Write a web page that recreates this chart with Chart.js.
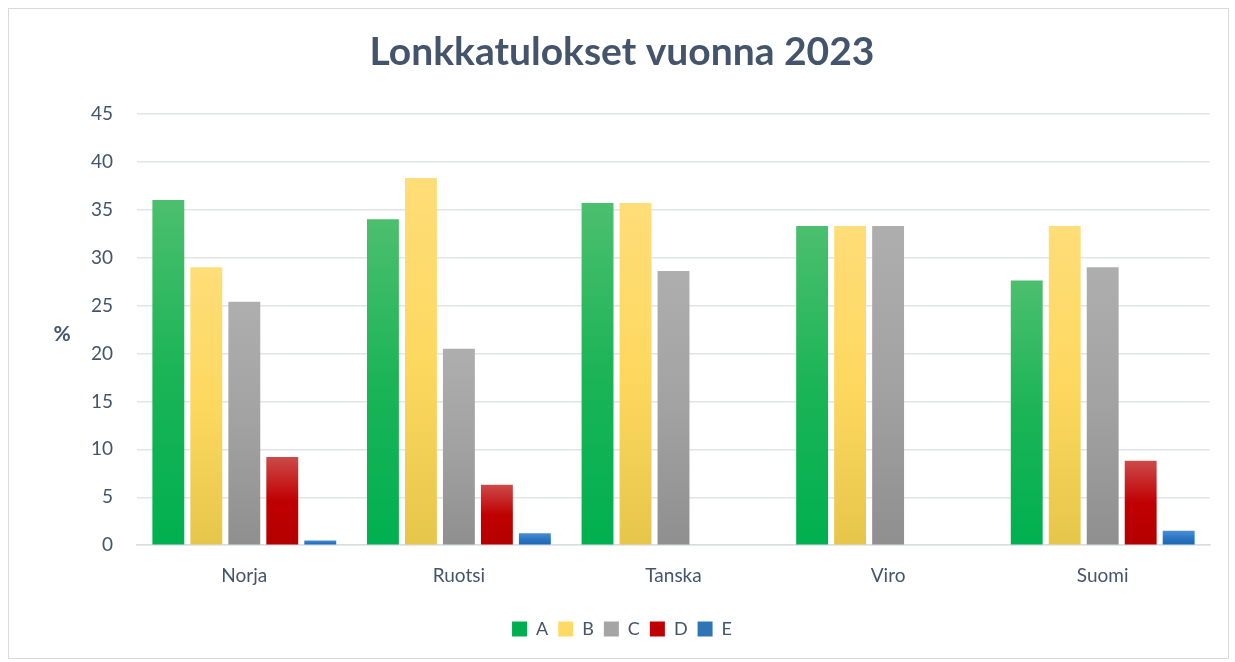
<!DOCTYPE html>
<html>
<head>
<meta charset="utf-8">
<script src="https://cdn.jsdelivr.net/npm/chart.js@4"></script>
<style>
  body { margin: 0; background: #fff; }
  #frame {
    position: absolute; left: 8px; top: 8px;
    width: 1219px; height: 649px;
    border: 1px solid #d9d9d9; background: #fff;
  }
</style>
</head>
<body>
<div id="frame"><canvas id="hipChart" width="1219" height="649"></canvas></div>
<script>
// ——— data ———
const countries = ["Norja", "Ruotsi", "Tanska", "Viro", "Suomi"];
const seriesNames = ["A", "B", "C", "D", "E"];
const valuesA = [36.0, 34.0, 35.7, 33.3, 27.6];
const valuesB = [29.0, 38.3, 35.7, 33.3, 33.3];
const valuesC = [25.4, 20.5, 28.6, 33.3, 29.0];
const valuesD = [9.2, 6.3, 0, 0, 8.8];
const valuesE = [0.5, 1.25, 0, 0, 1.5];
const yTicks = [0, 5, 10, 15, 20, 25, 30, 35, 40, 45];

// gradient stops per series: [top, middle, bottom]
const fills = [
  ["#4cbf6e", "#1bb456", "#00b050"],
  ["#ffdd78", "#fdd85f", "#e6c64a"],
  ["#aeaeae", "#a2a2a2", "#8f8f8f"],
  ["#cc4a4a", "#c00000", "#b40000"],
  ["#4d8dd3", "#2a75c4", "#1c66b0"],
];
const legendFill = ["#00b050", "#ffd966", "#a5a5a5", "#c00000", "#2e75b6"];
const textColor = "#44546a";
const fontName = "Lato, 'Open Sans', sans-serif";

// gradient for one bar from its own top to the baseline
function barGradient(ctx, stops) {
  const chart = ctx.chart;
  const y = chart.scales && chart.scales.y;
  if (!chart.chartArea || !y || ctx.raw === undefined) return stops[1];
  const top = y.getPixelForValue(ctx.raw);
  const base = y.getPixelForValue(0);
  if (base - top < 1) return stops[1];
  const g = chart.ctx.createLinearGradient(0, top, 0, base);
  g.addColorStop(0, stops[0]);
  g.addColorStop(0.5, stops[1]);
  g.addColorStop(1, stops[2]);
  return g;
}

// "%" label beside the y axis, kept upright
const percentLabel = {
  id: "percentLabel",
  afterDraw(chart) {
    const c = chart.ctx;
    c.save();
    c.font = "bold 21px " + fontName;
    c.fillStyle = textColor;
    c.textAlign = "center";
    c.textBaseline = "middle";
    c.fillText("%", 53, 325);
    c.restore();
  },
};

const allValues = [valuesA, valuesB, valuesC, valuesD, valuesE];
const datasets = seriesNames.map((name, i) => ({
  label: name,
  data: allValues[i],
  backgroundColor: (ctx) => barGradient(ctx, fills[i]),
  legendColor: legendFill[i],
  borderWidth: 0,
  categoryPercentage: 0.885,
  barPercentage: 0.84,
}));

new Chart(document.getElementById("hipChart"), {
  type: "bar",
  data: { labels: countries, datasets },
  plugins: [percentLabel],
  options: {
    responsive: false,
    animation: false,
    layout: { padding: { left: 25, right: 18, top: 0, bottom: 10 } },
    scales: {
      x: {
        grid: { display: false },
        border: { color: "#d9dde3", width: 1.5 },
        ticks: { color: textColor, font: { family: fontName, size: 19 }, padding: 11 },
        afterFit: (axis) => { axis.height += 12; },
      },
      y: {
        min: 0,
        max: 45,
        afterBuildTicks: (axis) => { axis.ticks = yTicks.map((v) => ({ value: v })); },
        grid: { color: "#e1e4ea", lineWidth: 1.5, drawTicks: false },
        border: { display: false },
        ticks: { color: textColor, font: { family: fontName, size: 19 }, padding: 24 },
        afterFit: (axis) => { axis.width = 103; },
      },
    },
    plugins: {
      title: {
        display: true,
        text: "Lonkkatulokset vuonna 2023",
        color: textColor,
        font: { family: fontName, size: 39, weight: "bold" },
        padding: { top: 20, bottom: 38 },
      },
      legend: {
        position: "bottom",
        labels: {
          color: textColor,
          font: { family: fontName, size: 18 },
          boxWidth: 15,
          boxHeight: 15,
          padding: 10,
          generateLabels: (chart) =>
            chart.data.datasets.map((ds, i) => ({
              text: ds.label,
              fillStyle: ds.legendColor,
              strokeStyle: ds.legendColor,
              lineWidth: 0,
              fontColor: textColor,
              datasetIndex: i,
            })),
        },
      },
      tooltip: { enabled: false },
    },
  },
});
</script>
</body>
</html>
